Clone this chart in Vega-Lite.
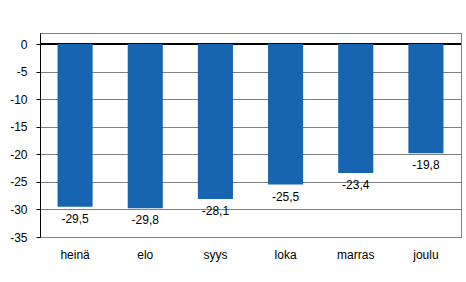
{
  "$schema": "https://vega.github.io/schema/vega-lite/v6.json",
  "width": 421,
  "height": 204,
  "autosize": {"type": "none"},
  "padding": {"left": 40, "top": 33, "right": 5, "bottom": 45},
  "background": "white",
  "config": {
    "locale": {"number": {"decimal": ",", "thousands": " ", "grouping": [3], "currency": ["", " €"], "minus": "-"}},
    "view": {"stroke": "#808080", "strokeWidth": 1},
    "font": "Liberation Sans",
    "axis": {"labelOverlap": false}
  },
  "data": {
    "values": [
      {"kuukausi": "heinä", "arvo": -29.5},
      {"kuukausi": "elo", "arvo": -29.8},
      {"kuukausi": "syys", "arvo": -28.1},
      {"kuukausi": "loka", "arvo": -25.5},
      {"kuukausi": "marras", "arvo": -23.4},
      {"kuukausi": "joulu", "arvo": -19.8}
    ]
  },
  "encoding": {
    "x": {
      "field": "kuukausi", "type": "nominal", "sort": null,
      "scale": {"paddingInner": 0.5, "paddingOuter": 0.25},
      "axis": {"title": null, "labelAngle": 0, "domain": false, "ticks": false, "labelPadding": 12, "labelFontSize": 12, "labelColor": "black", "labelFont": "Liberation Sans"}
    },
    "y": {
      "field": "arvo", "type": "quantitative",
      "scale": {"domain": [-35, 2], "nice": false},
      "axis": {"title": null, "values": [0, -5, -10, -15, -20, -25, -30, -35], "format": "d", "labelOverlap": false, "labelFlush": false, "grid": true, "gridColor": "#808080", "gridOpacity": 1, "domainColor": "black", "tickColor": "black", "tickSize": 4, "labelFontSize": 12, "labelColor": "black", "labelPadding": 9, "labelFont": "Liberation Sans"}
    }
  },
  "layer": [
    {
      "mark": {"type": "rule", "color": "black", "strokeWidth": 1},
      "encoding": {"y": {"datum": 0, "type": "quantitative"}, "x": {"value": 0}, "x2": {"value": 421}}
    },
    {
      "mark": {"type": "bar", "color": "#1764b0"}
    },
    {
      "mark": {"type": "text", "baseline": "top", "dy": 7, "fontSize": 12, "color": "black", "font": "Liberation Sans"},
      "encoding": {
        "text": {"field": "arvo", "type": "quantitative", "format": ".1f"}
      }
    }
  ]
}
